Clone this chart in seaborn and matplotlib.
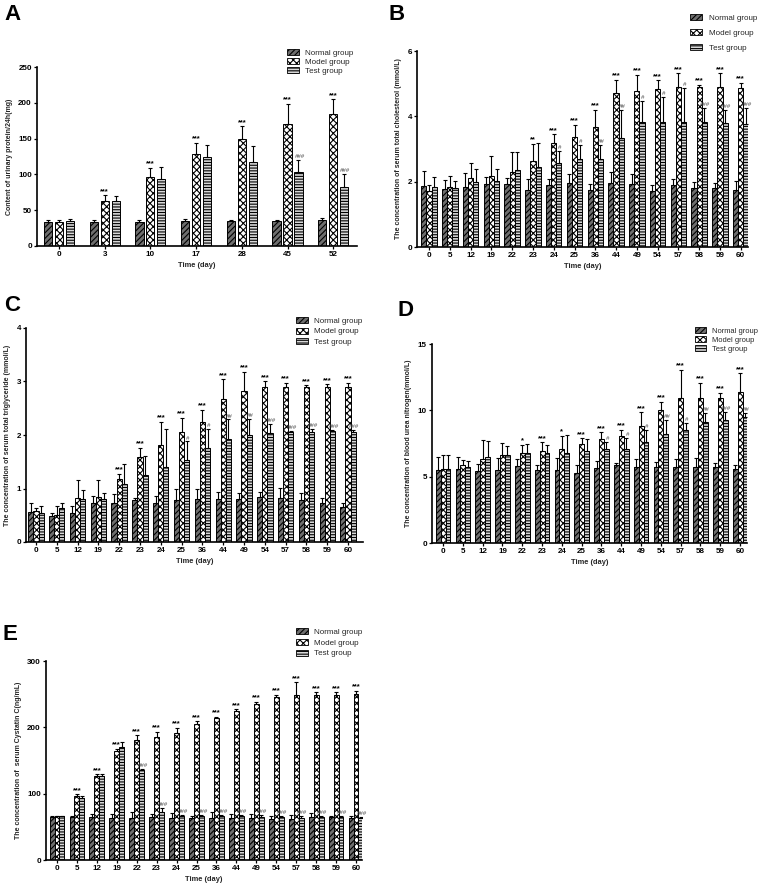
import matplotlib
matplotlib.use('Agg')
import matplotlib.pyplot as plt
from matplotlib.patches import Patch
import seaborn as sns
import pandas as pd

# ---------------- data ----------------
groups = ["Normal group", "Model group", "Test group"]

# Panel A: urinary protein
days_a = ["0", "3", "10", "17", "28", "45", "52"]
normal_a = [33, 34, 33, 35, 35, 35, 36]
normal_a_sd = [4, 3, 3, 3, 1, 2, 3]
model_a = [34, 63, 97, 128, 149, 171, 184]
model_a_sd = [3, 8, 12, 16, 18, 28, 21]
test_a = [35, 63, 93, 124, 117, 103, 83]
test_a_sd = [3, 7, 17, 17, 23, 17, 18]
model_a_sig = ["", "***", "***", "***", "***", "***", "***"]
test_a_sig = ["", "", "", "", "", "###", "###"]

days_long = ["0", "5", "12", "19", "22", "23", "24", "25", "36", "44", "49", "54", "57", "58", "59", "60"]

# Panel B: total cholesterol
normal_b = [1.87, 1.78, 1.83, 1.92, 1.94, 1.75, 1.90, 1.95, 1.76, 1.96, 1.93, 1.71, 1.91, 1.80, 1.80, 1.75]
normal_b_sd = [0.46, 0.27, 0.45, 0.22, 0.16, 0.34, 0.18, 0.29, 0.17, 0.34, 0.30, 0.18, 0.16, 0.19, 0.17, 0.28]
model_b = [1.70, 1.85, 2.11, 2.18, 2.31, 2.62, 3.18, 3.38, 3.68, 4.72, 4.77, 4.85, 4.90, 4.90, 4.90, 4.87]
model_b_sd = [0.20, 0.31, 0.47, 0.60, 0.61, 0.53, 0.27, 0.36, 0.52, 0.40, 0.51, 0.25, 0.42, 0.06, 0.42, 0.15]
test_b = [1.83, 1.80, 1.99, 2.03, 2.36, 2.45, 2.57, 2.70, 2.70, 3.35, 3.82, 3.83, 3.83, 3.83, 3.80, 3.75]
test_b_sd = [0.30, 0.22, 0.39, 0.35, 0.54, 0.73, 0.38, 0.43, 0.43, 0.85, 0.66, 0.77, 1.05, 0.44, 0.40, 0.50]
model_b_sig = ["", "", "", "", "", "**", "***", "***", "***", "***", "***", "***", "***", "***", "***", "***"]
test_b_sig = ["", "", "", "", "", "", "#", "#", "##", "##", "#", "#", "#", "###", "###", "###"]

# Panel C: triglyceride
normal_c = [0.57, 0.48, 0.55, 0.72, 0.73, 0.78, 0.73, 0.79, 0.80, 0.80, 0.80, 0.84, 0.83, 0.78, 0.73, 0.66]
normal_c_sd = [0.15, 0.06, 0.12, 0.14, 0.16, 0.04, 0.13, 0.20, 0.20, 0.13, 0.11, 0.09, 0.18, 0.14, 0.10, 0.06]
model_c = [0.58, 0.51, 0.83, 0.84, 1.18, 1.59, 1.81, 2.05, 2.24, 2.68, 2.83, 2.89, 2.90, 2.90, 2.89, 2.90]
model_c_sd = [0.05, 0.17, 0.32, 0.32, 0.10, 0.17, 0.44, 0.27, 0.23, 0.36, 0.35, 0.11, 0.07, 0.03, 0.06, 0.07]
test_c = [0.55, 0.64, 0.80, 0.80, 1.08, 1.25, 1.41, 1.53, 1.76, 1.92, 2.00, 2.04, 2.06, 2.06, 2.07, 2.06]
test_c_sd = [0.13, 0.08, 0.18, 0.12, 0.37, 0.35, 0.71, 0.35, 0.35, 0.37, 0.30, 0.16, 0.01, 0.06, 0.02, 0.03]
model_c_sig = ["", "", "", "", "***", "***", "***", "***", "***", "***", "***", "***", "***", "***", "***", "***"]
test_c_sig = ["", "", "", "", "", "", "", "#", "#", "##", "##", "###", "###", "###", "###", "###"]

# Panel D: blood urea nitrogen
normal_d = [5.5, 5.55, 5.45, 5.5, 5.8, 5.5, 5.5, 5.25, 5.65, 5.85, 5.7, 5.75, 5.75, 5.7, 5.75, 5.55]
normal_d_sd = [0.95, 0.95, 0.5, 0.9, 0.55, 0.35, 0.9, 0.6, 0.5, 0.2, 0.6, 0.35, 0.6, 0.7, 0.3, 0.3]
model_d = [5.6, 5.9, 6.35, 6.65, 6.75, 6.95, 7.1, 7.5, 7.85, 8.1, 8.8, 10.05, 10.9, 10.95, 10.95, 11.35]
model_d_sd = [1.05, 0.35, 1.4, 0.9, 0.65, 0.65, 1.0, 0.4, 0.5, 0.45, 1.05, 0.6, 2.15, 1.1, 0.35, 1.45]
test_d = [5.6, 5.7, 6.45, 6.6, 6.8, 6.75, 6.8, 6.95, 7.05, 7.1, 7.65, 8.25, 8.55, 9.1, 9.3, 9.5]
test_d_sd = [1.05, 0.5, 1.25, 0.7, 0.7, 0.65, 1.35, 0.9, 0.55, 0.85, 0.9, 1.0, 0.5, 0.7, 0.55, 0.3]
model_d_sig = ["", "", "", "", "*", "***", "*", "***", "***", "***", "***", "***", "***", "***", "***", "***"]
test_d_sig = ["", "", "", "", "", "", "", "", "#", "#", "#", "##", "#", "##", "###", "##"]

# Panel E: Cystatin C
normal_e = [65, 65, 65, 64, 64, 65, 63, 63, 64, 64, 64, 62, 62, 65, 65, 63]
normal_e_sd = [1, 2, 4, 6, 9, 5, 8, 3, 8, 5, 5, 5, 6, 6, 1, 3]
model_e = [66, 96, 127, 165, 181, 186, 192, 205, 214, 225, 235, 246, 248, 248, 249, 251]
model_e_sd = [1, 3, 2, 3, 7, 7, 7, 4, 2, 2, 3, 3, 20, 5, 4, 4]
test_e = [66, 94, 126, 170, 135, 72, 67, 67, 66, 66, 65, 65, 64, 65, 65, 64]
test_e_sd = [1, 2, 3, 8, 2, 7, 1, 1, 2, 2, 3, 2, 2, 2, 2, 1]
model_e_sig = ["", "***", "***", "***", "***", "***", "***", "***", "***", "***", "***", "***", "***", "***", "***", "***"]
test_e_sig = ["", "", "", "", "###", "###", "###", "###", "###", "###", "###", "###", "###", "###", "###", "###"]

# ---------------- style ----------------
sns.set_theme(style="ticks")
plt.rcParams['font.family'] = ['Liberation Sans', 'DejaVu Sans']
plt.rcParams['hatch.linewidth'] = 0.8

face_colors = ["#6e6e6e", "#ffffff", "#d8d8d8"]
hatches = ["//////", "xxxxx", "------"]

W, H = 761, 888
fig = plt.figure(figsize=(W / 100, H / 100), dpi=100)


def axes_px(left, right, top, bottom):
    return fig.add_axes([left / W, 1 - bottom / H, (right - left) / W, (bottom - top) / H])


def panel(ax, days, vals, sds, msig, tsig, ylabel, ylim, yticks, xlim,
          width, gap, leg_xy, leg_space, leg_font=5.8):
    rows = []
    for g, v in zip(groups, vals):
        for d, val in zip(days, v):
            rows.append({"day": d, "group": g, "value": val})
    df = pd.DataFrame(rows)
    sns.barplot(data=df, x="day", y="value", hue="group", order=days,
                hue_order=groups, palette=face_colors, saturation=1,
                width=width, gap=gap, errorbar=None, edgecolor="black",
                linewidth=0.7, legend=False, ax=ax)
    for cont, h, sd, sig in zip(ax.containers, hatches, sds,
                                [None, msig, tsig]):
        xs, tops = [], []
        for bar in cont:
            bar.set_hatch(h)
            xs.append(bar.get_x() + bar.get_width() / 2)
            tops.append(bar.get_height())
        ax.errorbar(xs, tops, yerr=[[0] * len(sd), sd], fmt="none",
                    ecolor="black", elinewidth=0.8, capsize=1.6,
                    capthick=0.8, zorder=3)
        if sig is not None:
            for x, t, s, lab in zip(xs, tops, sd, sig):
                if not lab:
                    continue
                if lab.startswith("*"):
                    ax.annotate(lab, (x, t + s), xytext=(0, 0.3),
                                textcoords="offset points", ha="center",
                                va="bottom", fontsize=5.4,
                                fontweight="bold", color="black")
                else:
                    ax.annotate(lab, (x, t + s), xytext=(0.8, 0.6),
                                textcoords="offset points", ha="center",
                                va="bottom", fontsize=4.3,
                                fontstyle="italic", color="#444444")
    ax.set_ylim(*ylim)
    ax.set_yticks(yticks)
    ax.set_xlim(*xlim)
    sns.despine(ax=ax)
    for s in ("left", "bottom"):
        ax.spines[s].set_linewidth(1.2)
        ax.spines[s].set_color("black")
    ax.tick_params(axis="both", labelsize=5.8, width=0.9, length=2.2,
                   pad=1.5, colors="black")
    for lbl in ax.get_xticklabels() + ax.get_yticklabels():
        lbl.set_fontweight("bold")
    ax.set_xlabel("Time (day)", fontsize=5.4, fontweight="bold", labelpad=3)
    ax.set_ylabel(ylabel, fontsize=5.0, fontweight="bold", labelpad=4)
    ax.set_facecolor("white")
    handles = [Patch(facecolor=fc, edgecolor="black", hatch=h, lw=0.6, label=g)
               for fc, h, g in zip(face_colors, hatches, groups)]
    ax.legend(handles=handles, loc="upper left", bbox_to_anchor=leg_xy,
              frameon=False, fontsize=leg_font, handlelength=1.5,
              handleheight=0.8, labelspacing=leg_space, borderaxespad=0,
              borderpad=0, handletextpad=0.8)


# A
axA = axes_px(37, 357, 67, 246)
panel(axA, days_a, [normal_a, model_a, test_a], [normal_a_sd, model_a_sd, test_a_sd],
      model_a_sig, test_a_sig, "Content of urinary protein/24h(mg)",
      (0, 250), [0, 50, 100, 150, 200, 250], (-0.48, 6.52), 0.72, 0.25,
      (0.78, 1.10), 0.15)

# B
axB = axes_px(417, 748, 51, 247)
panel(axB, days_long, [normal_b, model_b, test_b], [normal_b_sd, model_b_sd, test_b_sd],
      model_b_sig, test_b_sig, "The concentration of serum total cholesterol (mmol/L)",
      (0, 6), [0, 2, 4, 6], (-0.58, 15.35), 0.74, 0.0,
      (0.825, 1.19), 0.9)

# C
axC = axes_px(26, 363, 328, 542)
panel(axC, days_long, [normal_c, model_c, test_c], [normal_c_sd, model_c_sd, test_c_sd],
      model_c_sig, test_c_sig, "The concentration of serum total triglyceride (mmol/L)",
      (0, 4), [0, 1, 2, 3, 4], (-0.48, 15.72), 0.74, 0.0,
      (0.80, 1.05), 0.3)

# D
axD = axes_px(432, 747, 344, 543)
panel(axD, days_long, [normal_d, model_d, test_d], [normal_d_sd, model_d_sd, test_d_sd],
      model_d_sig, test_d_sig, "The concentration of blood urea nitrogen(mmol/L)",
      (0, 15), [0, 5, 10, 15], (-0.56, 15.35), 0.74, 0.0,
      (0.835, 1.085), 0.2, 5.4)

# E
axE = axes_px(46, 362, 661, 860)
panel(axE, days_long, [normal_e, model_e, test_e], [normal_e_sd, model_e_sd, test_e_sd],
      model_e_sig, test_e_sig, "The concentration of  serum Cystatin C(ng/mL)",
      (0, 300), [0, 100, 200, 300], (-0.55, 15.3), 0.74, 0.0,
      (0.79, 1.165), 0.35)

for lab, x, y in [("A", 4, 4), ("B", 388, 4), ("C", 4, 295), ("D", 397, 300), ("E", 3, 624)]:
    fig.text(x / W, 1 - y / H, lab, fontsize=16, fontweight="bold",
             ha="left", va="top", color="black")

fig.savefig("out.png", dpi=100, facecolor="white")
